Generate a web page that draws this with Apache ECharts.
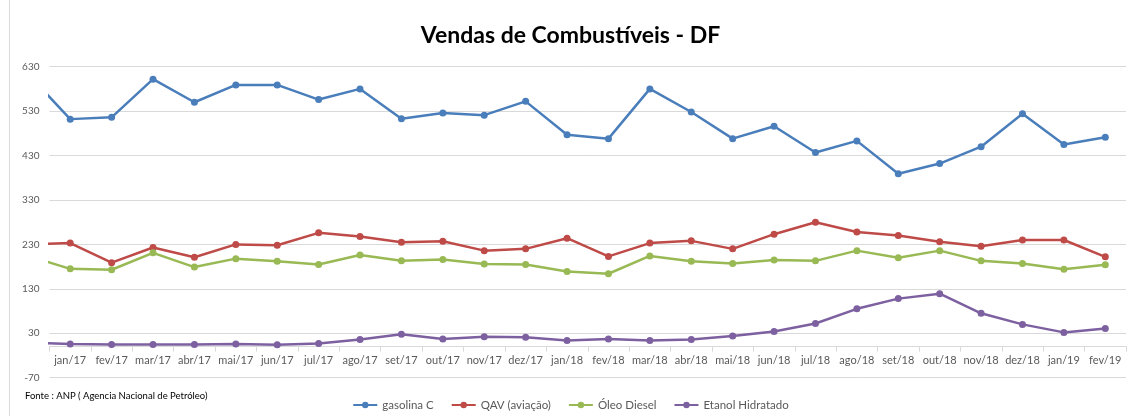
<!DOCTYPE html>
<html>
<head>
<meta charset="utf-8">
<script src="https://cdn.jsdelivr.net/npm/echarts@6/dist/echarts.min.js"></script>
<style>
  html, body { margin: 0; padding: 0; background: #fff; }
  #chart { width: 1141px; height: 418px; }
</style>
</head>
<body>
<div id="chart"></div>
<script>
// first slot = month before jan/17, only its segment into the left edge is visible
const months = ['', 'jan/17', 'fev/17', 'mar/17', 'abr/17', 'mai/17', 'jun/17', 'jul/17', 'ago/17',
    'set/17', 'out/17', 'nov/17', 'dez/17', 'jan/18', 'fev/18', 'mar/18', 'abr/18', 'mai/18',
    'jun/18', 'jul/18', 'ago/18', 'set/18', 'out/18', 'nov/18', 'dez/18', 'jan/19', 'fev/19'];

const gasolina = [612, 512, 516, 602, 550, 589, 589, 556, 580, 513, 526, 521, 552, 477, 468,
    580, 528, 468, 496, 437, 463, 389, 412, 450, 524, 455, 471];
const qav = [230, 233, 189, 223, 201, 230, 228, 256, 248, 235, 237, 216, 220, 244, 203,
    233, 238, 220, 253, 280, 258, 250, 236, 226, 240, 240, 202];
const diesel = [204, 175, 173, 211, 179, 198, 192, 185, 206, 193, 196, 186, 185, 169, 164,
    204, 192, 187, 195, 193, 216, 200, 216, 193, 187, 174, 184];
const etanol = [9, 6, 5, 5, 5, 6, 4, 7, 16, 28, 17, 22, 21, 14, 17,
    14, 16, 24, 34, 52, 85, 108, 119, 75, 50, 32, 41];

const yTicks = { min: -70, max: 630, interval: 100 };

window.addEventListener('load', () => {
    const chart = echarts.init(document.getElementById('chart'));

    const gridTop = 66.7;
    const gridBottom = 40.3;
    const plotH = 418 - gridTop - gridBottom;
    // category axis sits on value 0, like the original; move it up from the grid bottom
    const zeroShift = plotH * (0 - yTicks.min) / (yTicks.max - yTicks.min);

    const makeSeries = (name, data, color) => ({
        name: name,
        type: 'line',
        data: data,
        symbol: 'circle',
        symbolSize: 7,
        clip: true,
        lineStyle: { width: 2.5, color: color },
        itemStyle: { color: color },
        emphasis: { disabled: true },
    });

    chart.setOption({
        animation: false,
        textStyle: { fontFamily: 'Lato, "Open Sans", sans-serif' },
        title: {
            text: 'Vendas de Combustíveis - DF',
            left: 'center',
            top: 19,
            textStyle: { fontSize: 23, fontWeight: 'bold', color: '#000' },
        },
        graphic: [
            {
                type: 'line',
                shape: { x1: 9.5, y1: 0, x2: 9.5, y2: 416 },
                style: { stroke: '#d9d9d9', lineWidth: 1 },
            },
            {
                type: 'text',
                left: 25,
                top: 391,
                style: { text: 'Fonte : ANP ( Agencia Nacional de Petróleo)', fontSize: 9.5, fill: '#000', fontFamily: 'Lato, sans-serif' },
            },
        ],
        legend: {
            bottom: 2,
            left: 'center',
            itemWidth: 24,
            itemHeight: 8,
            itemGap: 17,
            textStyle: { fontSize: 11.5, color: '#595959' },
            data: ['gasolina C', 'QAV (aviação)', 'Óleo Diesel', 'Etanol Hidratado'],
        },
        grid: { left: 49.5, right: 15, top: gridTop, bottom: gridBottom },
        xAxis: {
            type: 'category',
            data: months,
            min: 1,
            max: months.length - 1,
            boundaryGap: true,
            offset: -zeroShift,
            axisLine: { onZero: false, lineStyle: { color: '#d9d9d9', width: 1 } },
            axisTick: { show: true, length: 5, lineStyle: { color: '#d9d9d9' } },
            axisLabel: { fontSize: 11, color: '#595959', margin: 8, interval: 0 },
        },
        yAxis: {
            type: 'value',
            min: yTicks.min,
            max: yTicks.max,
            interval: yTicks.interval,
            axisLine: { show: false },
            axisTick: { show: false },
            axisLabel: { fontSize: 10, color: '#595959', margin: 10 },
            splitLine: { lineStyle: { color: '#d9d9d9', width: 1 } },
        },
        series: [
            makeSeries('gasolina C', gasolina, '#4a7ebb'),
            makeSeries('QAV (aviação)', qav, '#be4b48'),
            makeSeries('Óleo Diesel', diesel, '#98b954'),
            makeSeries('Etanol Hidratado', etanol, '#7d60a0'),
        ],
    });
});
</script>
</body>
</html>
